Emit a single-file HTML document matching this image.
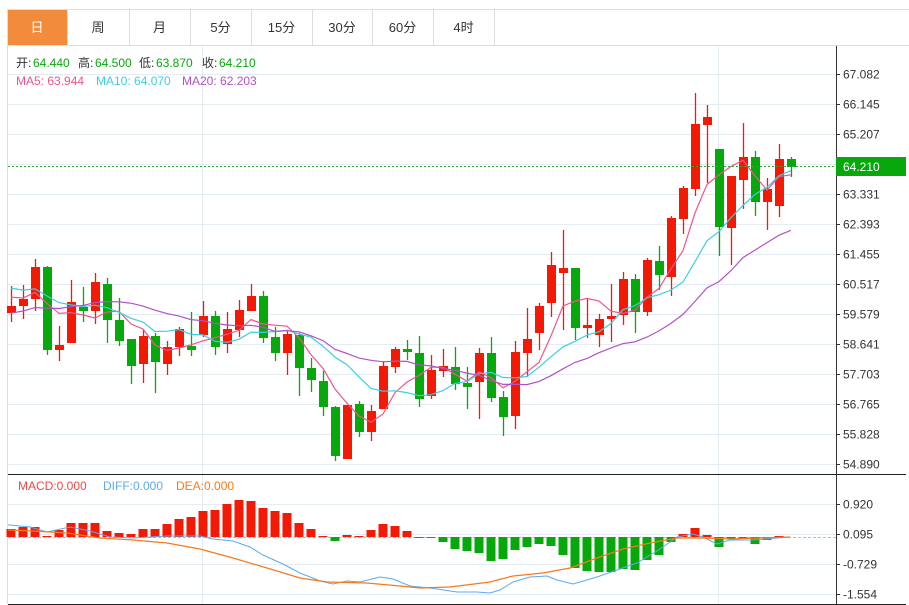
<!DOCTYPE html>
<html><head><meta charset="utf-8"><style>
body{margin:0;width:909px;height:605px;background:#fff;overflow:hidden;font-family:"Liberation Sans","Noto Sans CJK SC",sans-serif}
svg{position:absolute;left:0;top:0}
</style></head><body>
<svg id="s" width="909" height="605" xmlns="http://www.w3.org/2000/svg" font-family="Liberation Sans, Noto Sans CJK SC, sans-serif">
</svg>
<script>
var s=document.getElementById('s'),h='';
function L(x1,y1,x2,y2,c,w,d){h+='<line x1="'+x1+'" y1="'+y1+'" x2="'+x2+'" y2="'+y2+'" stroke="'+c+'" stroke-width="'+(w||1)+'"'+(d?' stroke-dasharray="'+d+'"':'')+'/>';}
function R(x,y,w,hh,c){h+='<rect x="'+x+'" y="'+y+'" width="'+w+'" height="'+hh+'" fill="'+c+'"/>';}
function T(x,y,t,c,sz,a){h+='<text x="'+x+'" y="'+y+'" fill="'+c+'" font-size="'+(sz||12)+'"'+(a?' text-anchor="'+a+'"':'')+'>'+t+'</text>';}
// tabs
L(7,9.5,909,9.5,'#ddd');L(7,45.5,909,45.5,'#ddd');
R(7,10,60,35,'#f28c3c');
var tabs=['日','周','月','5分','15分','30分','60分','4时'],tx=[7,67,129,190,251,312,372,433,494];
for(var i=0;i<8;i++){T((tx[i]+tx[i+1])/2,32,tabs[i],i==0?'#fff':'#333',13,'middle');}
for(var i=1;i<9;i++)L(tx[i]+.5,10,tx[i]+.5,45,'#ddd');
L(7.5,10,7.5,604,'#ddd');
// grid
var gy=[74,104,134,164,194,224,254,284,314,344,374,404,434,464],gl=['67.082','66.145','65.207','','63.331','62.393','61.455','60.517','59.579','58.641','57.703','56.765','55.828','54.890'];
gy.forEach(function(y,i){L(8,y+.5,836,y+.5,'#e3ecf3');if(gl[i]){L(836,y+.5,840,y+.5,'#333');T(843,y+4.5,gl[i],'#333',12);}});
L(202.5,46,202.5,604,'#e3ecf3');L(718.5,46,718.5,604,'#e3ecf3');
[504,534,564,594].forEach(function(y,i){L(8,y+.5,836,y+.5,'#e3ecf3');L(836,y+.5,840,y+.5,'#333');T(843,y+4.5,['0.920','0.095','-0.729','-1.554'][i],'#333',12);});
L(836.5,46,836.5,604,'#333');L(8,474.5,906,474.5,'#222');L(8,604.5,906,604.5,'#222');
// candles: u=1 red(up)
var C=[[1,306,313,286,322],[1,299,306,285,319],[1,267,299,259,311],[0,267,350,266,355],[1,345,350,326,361],[1,302,343,280,343],[0,307,311,287,322],[1,282,311,273,324],[0,284,320,278,343],[0,320,341,298,346],
[0,339,366,339,384],[1,336,364,330,383],[0,336,362,333,393],[1,347,364,341,375],[1,329,347,327,356],[0,346,350,312,356],[1,316,335,301,337],[0,316,347,311,355],[1,329,344,312,353],[1,310,330,300,337],
[1,296,311,284,311],[0,296,338,291,343],[0,337,353,327,361],[1,334,353,330,375],[0,335,368,333,396],[0,368,380,358,392],[0,381,407,371,416],[0,407,456,406,461],[1,405,459,405,459],[0,404,432,401,437],
[1,411,432,405,441],[1,366,409,361,409],[1,349,367,347,373],[0,349,352,340,360],[0,353,399,336,407],[1,370,396,355,399],[1,366,371,349,377],[0,367,384,347,390],[0,383,387,367,409],[1,353,382,348,419],
[0,353,398,337,402],[0,397,417,391,436],[1,352,416,341,429],[1,339,353,308,377],[1,306,333,303,350],[1,265,303,252,317],[1,268,273,230,330],[0,268,328,268,340],[1,325,328,298,338],[1,319,335,314,347],
[1,316,319,284,342],[1,279,315,272,325],[0,279,312,274,333],[1,260,312,258,316],[0,261,275,246,290],[1,218,277,216,296],[1,188,219,186,234],[1,124,189,93,196],[1,117,125,105,183],[0,149,227,149,256],
[1,176,228,176,265],[1,157,180,123,209],[0,157,202,151,216],[1,189,202,178,230],[1,159,206,144,217],[0,159,167,157,177]];
var hist=[338,338,338,338,338,338,338,338,338,338,279,279,279,279,279,295,295,295,295];
var cl=hist.slice(),N=hist.length;
C.forEach(function(c,i){var x=11+i*12,col=c[0]?'#f21a05':'#06a80c';cl.push(c[0]?c[1]:c[2]);
L(x+.5,c[3],x+.5,c[4],col,1.3);R(x-4,c[1],9,Math.max(1,c[2]-c[1]),col);});
function ma(n,col){var p=[];for(var i=N;i<cl.length;i++){var sm=0;for(var j=i-n+1;j<=i;j++)sm+=cl[j];p.push((11+(i-N)*12)+','+(sm/n).toFixed(1));}
h+='<polyline points="'+p.join(' ')+'" fill="none" stroke="'+col+'" stroke-width="1.2"/>';}
ma(5,'#f0558a');ma(10,'#3ccfe0');ma(20,'#b252c8');
// last price
L(8,166.5,836,166.5,'#2cae2c',1,'2,2');R(836,157,70,19,'#06a80c');T(843,171,'64.210','#fff',12);
// MACD bars
var M=[529,527,527,536,530,523,523,523,531,533,534,529,529,524,519,517,511,510,504,500,501,508,511,513,523,529,536,541,535,536,530,524,526,531,538,538,542,549,551,553,561,559,550,547,544,546,555,568,571,572,572,569,570,560,555,542,534,528,535,547,539,539,544,540,536,537];
L(8,537.5,836,537.5,'#9cc6e0',1,'3,2');
M.forEach(function(y,i){var x=11+i*12-4.5;if(y<537)R(x,y,9,537-y,'#f21a05');else if(y>537)R(x,537,9,y-537,'#06a80c');});
h+='<polyline fill="none" stroke="#5aabf0" stroke-width="1" points="8,525 10,525 30,527 47,532 70,527 90,531 110,537 133,538 167,536 200,536 213,539 233,541 250,547 263,555 283,564 300,573 320,581 333,584 347,581 360,582 380,577 393,579 410,586 430,588 457,592 477,592 490,593 500,590 513,582 530,577 547,576 557,580 573,584 597,577 617,570 637,563 657,551 670,542 677,537 693,534 703,537 717,544 730,540 753,540 777,538 790,537"/>';
h+='<polyline fill="none" stroke="#f57a1e" stroke-width="1.2" points="8,530 33,531 67,533 100,538 133,540 167,543 200,549 233,558 267,568 300,578 327,582 367,583 400,586 420,588 450,587 490,582 513,576 543,573 570,568 597,558 623,549 650,543 677,538 703,538 730,539 790,537"/>';
T(16,67,'开:','#333',12);T(33,67,'64.440','#06a80c',12);T(78,67,'高:','#333',12);T(95,67,'64.500','#06a80c',12);
T(139,67,'低:','#333',12);T(156,67,'63.870','#06a80c',12);T(202,67,'收:','#333',12);T(219,67,'64.210','#06a80c',12);
T(16,85,'MA5: 63.944','#f0558a',12);T(96,85,'MA10: 64.070','#3ccfe0',12);T(182,85,'MA20: 62.203','#b252c8',12);
T(18,490,'MACD:0.000','#f04848',12);T(103,490,'DIFF:0.000','#5aabf0',12);T(176,490,'DEA:0.000','#f57a1e',12);
s.innerHTML=h;
</script>
</body></html>
